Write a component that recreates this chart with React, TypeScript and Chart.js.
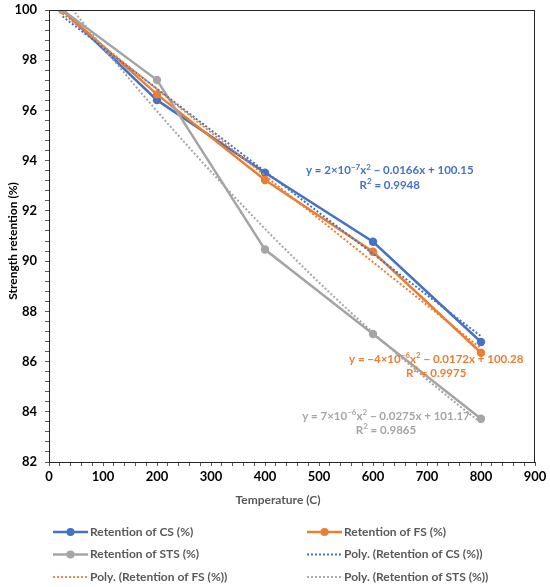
import React, { useEffect, useRef } from 'react';
import { Chart, ChartConfiguration, registerables } from 'chart.js';

Chart.register(...registerables);

// temperatures (C) and retention values (%)
const temperatures = [25, 200, 400, 600, 800];
const csRetention = [100, 96.41, 93.52, 90.77, 86.78];
const fsRetention = [100, 96.64, 93.23, 90.37, 86.35];
const stsRetention = [100, 97.21, 90.46, 87.1, 83.72];

const seriesNames = ['Retention of CS (%)', 'Retention of FS (%)', 'Retention of STS (%)'];
const seriesColors = ['#4472C4', '#ED7D31', '#A5A5A5'];

const equationLines = [
  ['y = 2×10⁻⁷x² − 0.0166x + 100.15', 'R² = 0.9948'],
  ['y = −4×10⁻⁶x² − 0.0172x + 100.28', 'R² = 0.9975'],
  ['y = 7×10⁻⁶x² − 0.0275x + 101.17', 'R² = 0.9865'],
];
// label anchors in data units (temperature, retention)
const equationAnchors = [
  { x: 631, y: 93.6 },
  { x: 717, y: 86.1 },
  { x: 624, y: 83.83 },
];

const FONT = 'Lato, "Open Sans", sans-serif';
const SUP: Record<string, string> = {
  '⁻': '−', '⁰': '0', '¹': '1', '²': '2', '³': '3', '⁴': '4',
  '⁵': '5', '⁶': '6', '⁷': '7', '⁸': '8', '⁹': '9',
};

// least squares fit of y = a x^2 + b x + c, like an Excel polynomial trendline
function quadFit(xs: number[], ys: number[]) {
  let s0 = 0, s1 = 0, s2 = 0, s3 = 0, s4 = 0, t0 = 0, t1 = 0, t2 = 0;
  xs.forEach((x, i) => {
    const y = ys[i];
    s0 += 1; s1 += x; s2 += x * x; s3 += x * x * x; s4 += x * x * x * x;
    t0 += y; t1 += x * y; t2 += x * x * y;
  });
  const m = [
    [s4, s3, s2, t2],
    [s3, s2, s1, t1],
    [s2, s1, s0, t0],
  ];
  for (let i = 0; i < 3; i++) {
    for (let j = i + 1; j < 3; j++) {
      const f = m[j][i] / m[i][i];
      for (let k = i; k < 4; k++) m[j][k] -= f * m[i][k];
    }
  }
  const r = [0, 0, 0];
  for (let i = 2; i >= 0; i--) {
    let v = m[i][3];
    for (let k = i + 1; k < 3; k++) v -= m[i][k] * r[k];
    r[i] = v / m[i][i];
  }
  return (x: number) => r[0] * x * x + r[1] * x + r[2];
}

function trendPoints(ys: number[]) {
  const f = quadFit(temperatures, ys);
  const pts: { x: number; y: number }[] = [];
  const lo = temperatures[0];
  const hi = temperatures[temperatures.length - 1];
  for (let x = lo; x <= hi; x += 5) pts.push({ x, y: f(x) });
  return pts;
}

// text with superscript runs, centred on cx
function drawRich(ctx: CanvasRenderingContext2D, text: string, cx: number, cy: number, size: number) {
  const runs: { t: string; sup: boolean }[] = [];
  for (const ch of text) {
    const sup = ch in SUP;
    const c = sup ? SUP[ch] : ch;
    const last = runs[runs.length - 1];
    if (last && last.sup === sup) last.t += c;
    else runs.push({ t: c, sup });
  }
  const base = `bold ${size}px ${FONT}`;
  const small = `bold ${Math.round(size * 0.68)}px ${FONT}`;
  let total = 0;
  runs.forEach((r) => {
    ctx.font = r.sup ? small : base;
    total += ctx.measureText(r.t).width;
  });
  let x = cx - total / 2;
  ctx.textAlign = 'left';
  runs.forEach((r) => {
    ctx.font = r.sup ? small : base;
    ctx.fillText(r.t, x, r.sup ? cy - size * 0.32 : cy);
    x += ctx.measureText(r.t).width;
  });
}

const frameAndText = {
  id: 'frameAndText',
  afterDatasetsDraw(chart: any) {
    const { ctx, chartArea, scales } = chart;
    ctx.save();
    ctx.strokeStyle = '#262626';
    ctx.lineWidth = 1;
    ctx.strokeRect(chartArea.left + 0.5, chartArea.top + 0.5, chartArea.right - chartArea.left - 1, chartArea.bottom - chartArea.top);

    ctx.textBaseline = 'middle';
    equationLines.forEach((lines, i) => {
      const px = scales.x.getPixelForValue(equationAnchors[i].x);
      const py = scales.y.getPixelForValue(equationAnchors[i].y);
      ctx.fillStyle = seriesColors[i];
      lines.forEach((t, j) => drawRich(ctx, t, px, py + j * 14.5, 11.5));
    });
    ctx.restore();
  },
  afterDraw(chart: any) {
    const { ctx, chartArea } = chart;
    ctx.save();
    // axis titles
    ctx.font = `bold 12px ${FONT}`;
    ctx.textAlign = 'center';
    ctx.textBaseline = 'middle';
    ctx.fillStyle = '#595959';
    ctx.fillText('Temperature (C)', 278, chartArea.bottom + 38);
    ctx.save();
    ctx.translate(13, 241);
    ctx.rotate(-Math.PI / 2);
    ctx.fillStyle = '#000';
    ctx.fillText('Strength retention (%)', 0, 0);
    ctx.restore();

    // legend, two columns
    ctx.textAlign = 'left';
    chart.data.datasets.forEach((d: any, i: number) => {
      const col = i % 2;
      const row = Math.floor(i / 2);
      const x0 = col === 0 ? 53 : 307;
      const y = chartArea.bottom + 70 + row * 22.5;
      ctx.strokeStyle = d.borderColor;
      ctx.lineWidth = d.borderDash ? 1.8 : 2.5;
      ctx.setLineDash(d.borderDash || []);
      ctx.beginPath();
      ctx.moveTo(x0, y);
      ctx.lineTo(x0 + 35, y);
      ctx.stroke();
      ctx.setLineDash([]);
      if (!d.borderDash) {
        ctx.fillStyle = d.borderColor;
        ctx.beginPath();
        ctx.arc(x0 + 17.5, y, 4, 0, Math.PI * 2);
        ctx.fill();
      }
      ctx.fillStyle = '#595959';
      ctx.fillText(d.label, x0 + 37, y);
    });
    ctx.restore();
  },
};

const RetentionChart: React.FC = () => {
  const canvasRef = useRef<HTMLCanvasElement | null>(null);
  const chartRef = useRef<Chart | null>(null);

  useEffect(() => {
    if (!canvasRef.current) return;
    const allSeries = [csRetention, fsRetention, stsRetention];

    const lineSets = allSeries.map((ys, i) => ({
      label: seriesNames[i],
      data: temperatures.map((x, j) => ({ x, y: ys[j] })),
      showLine: true,
      borderColor: seriesColors[i],
      backgroundColor: seriesColors[i],
      borderWidth: 2.5,
      pointRadius: 4.2,
      pointBorderWidth: 0,
      order: 6 - i,
    }));
    const trendSets = allSeries.map((ys, i) => ({
      label: `Poly. (${seriesNames[i]})`,
      data: trendPoints(ys),
      showLine: true,
      borderColor: seriesColors[i],
      backgroundColor: seriesColors[i],
      borderWidth: 2,
      borderDash: [2, 2],
      pointRadius: 0,
      order: 3 - i,
    }));

    const config: ChartConfiguration = {
      type: 'scatter',
      data: { datasets: [...lineSets, ...trendSets] as any },
      options: {
        animation: false,
        responsive: false,
        layout: { padding: { left: 0, top: 10, right: 15, bottom: 75 } },
        plugins: { legend: { display: false }, tooltip: { enabled: false } },
        scales: {
          x: {
            type: 'linear',
            min: 0,
            max: 900,
            afterFit: (s: any) => {
              s.height = 50;
              s.paddingLeft = 0;
              s.paddingRight = 0;
            },
            border: { color: '#262626', width: 1 },
            grid: { drawOnChartArea: false, tickLength: 4, color: '#595959' },
            ticks: {
              stepSize: 20,
              autoSkip: false,
              maxRotation: 0,
              padding: 3,
              color: '#000',
              font: { family: FONT, size: 13, weight: 'bold' },
              callback: (v: any) => (Math.round(v) % 100 === 0 ? String(Math.round(v)) : ''),
            },
          },
          y: {
            type: 'linear',
            min: 82,
            max: 100,
            afterFit: (s: any) => {
              s.width = 49;
              s.paddingTop = 0;
              s.paddingBottom = 0;
            },
            border: { color: '#262626', width: 1 },
            grid: { drawOnChartArea: false, tickLength: 4, color: '#595959' },
            ticks: {
              stepSize: 0.4,
              autoSkip: false,
              padding: 8,
              color: '#000',
              font: { family: FONT, size: 13, weight: 'bold' },
              callback: (v: any) => {
                const n = Number(v);
                return Math.abs(n / 2 - Math.round(n / 2)) < 1e-6 ? String(Math.round(n)) : '';
              },
            },
          },
        },
      },
      plugins: [frameAndText],
    };

    chartRef.current = new Chart(canvasRef.current, config);
    return () => {
      if (chartRef.current) {
        chartRef.current.destroy();
        chartRef.current = null;
      }
    };
  }, []);

  return <canvas ref={canvasRef} width={550} height={587} />;
};

export default function App() {
  return (
    <div style={{ position: 'absolute', left: 0, top: 0, width: 550, height: 587, background: '#fff' }}>
      <RetentionChart />
    </div>
  );
}
